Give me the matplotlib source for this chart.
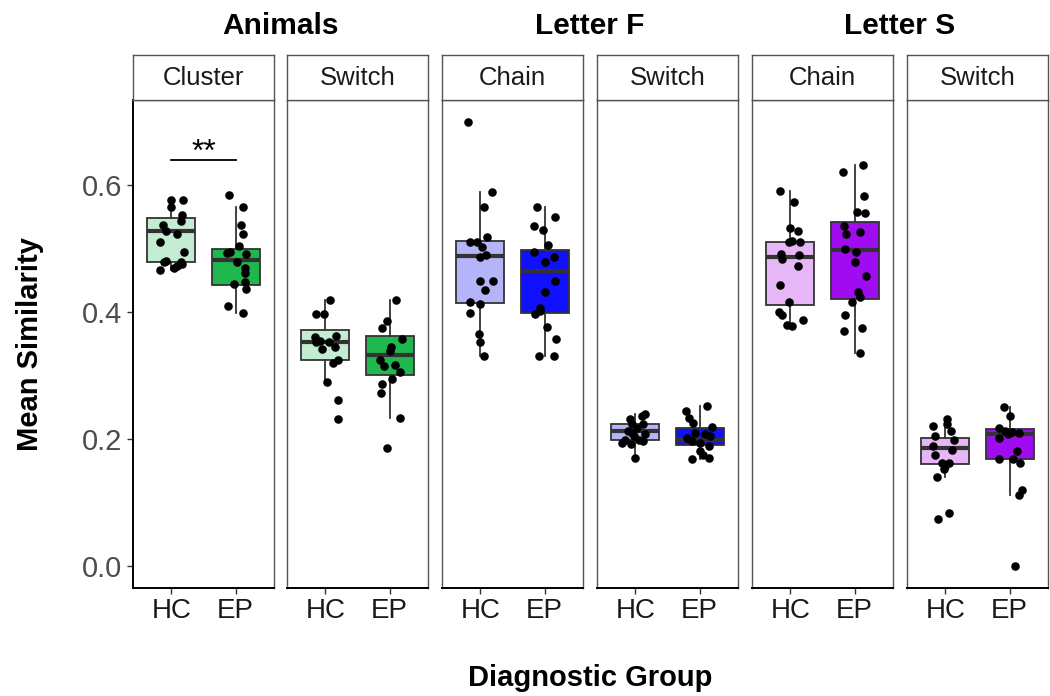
import matplotlib
matplotlib.use('Agg')
import matplotlib.pyplot as plt

plt.rcParams['font.family'] = ['Liberation Sans', 'DejaVu Sans']

# ---- data ----
groups = ['HC', 'EP']
tasks = ['Animals', 'Letter F', 'Letter S']
strip_labels = ['Cluster', 'Switch', 'Chain', 'Switch', 'Chain', 'Switch']

# Animals / Cluster
an_clu_hc = [0.577, 0.577, 0.565, 0.552, 0.544, 0.537, 0.528, 0.523, 0.511, 0.495,
             0.480, 0.476, 0.470, 0.472, 0.466, 0.478, 0.479]
an_clu_hc_jit = [-0.01, 0.18, 0.0, 0.16, 0.15, -0.13, -0.09, 0.09, -0.18, 0.20,
                 -0.09, 0.17, 0.04, 0.09, -0.18, 0.15, -0.11]
an_clu_ep = [0.585, 0.565, 0.537, 0.523, 0.504, 0.493, 0.492, 0.494, 0.479, 0.470,
             0.462, 0.444, 0.447, 0.436, 0.410, 0.399]
an_clu_ep_jit = [-0.10, 0.11, 0.09, 0.11, 0.05, -0.14, 0.17, -0.08, 0.02, 0.15,
                 0.14, -0.03, 0.15, 0.16, -0.12, 0.12]

# Animals / Switch
an_sw_hc = [0.419, 0.397, 0.397, 0.360, 0.355, 0.362, 0.342, 0.344, 0.352, 0.325,
            0.320, 0.289, 0.261, 0.232, 0.353]
an_sw_hc_jit = [0.07, -0.14, -0.02, -0.16, -0.08, 0.16, -0.05, 0.15, -0.14, 0.19,
                0.12, 0.02, 0.19, 0.19, 0.05]
an_sw_ep = [0.419, 0.386, 0.374, 0.358, 0.344, 0.339, 0.325, 0.315, 0.317, 0.305,
            0.294, 0.286, 0.273, 0.233, 0.185]
an_sw_ep_jit = [0.10, -0.04, -0.11, 0.19, 0.03, 0.0, -0.15, -0.09, 0.09, 0.17,
                0.04, -0.11, -0.14, 0.17, -0.04]

# Letter F / Chain
lf_ch_hc = [0.699, 0.589, 0.566, 0.510, 0.518, 0.510, 0.502, 0.486, 0.489, 0.449,
            0.449, 0.435, 0.416, 0.412, 0.399, 0.365, 0.353, 0.331]
lf_ch_hc_jit = [-0.19, 0.18, 0.05, -0.17, 0.10, -0.06, 0.02, 0.0, 0.09, 0.0,
                0.19, 0.07, -0.17, 0.0, -0.17, -0.03, 0.0, 0.05]
lf_ch_ep = [0.566, 0.549, 0.535, 0.529, 0.506, 0.494, 0.486, 0.478, 0.449, 0.432,
            0.407, 0.397, 0.376, 0.358, 0.331, 0.331, 0.402]
lf_ch_ep_jit = [-0.11, 0.17, -0.17, -0.03, 0.06, -0.16, 0.14, 0.01, 0.17, 0.0,
                -0.07, -0.15, 0.04, 0.18, -0.09, 0.14, -0.07]

# Letter F / Switch
lf_sw_hc = [0.239, 0.236, 0.231, 0.223, 0.223, 0.217, 0.212, 0.210, 0.207, 0.199,
            0.199, 0.194, 0.196, 0.192, 0.170, 0.205]
lf_sw_hc_jit = [0.15, 0.10, -0.08, -0.06, 0.125, 0.02, -0.11, -0.05, 0.15, -0.16,
                0.05, -0.21, 0.125, -0.07, 0.0, -0.015]
lf_sw_ep = [0.252, 0.244, 0.233, 0.225, 0.219, 0.210, 0.207, 0.202, 0.205, 0.194,
            0.188, 0.181, 0.169, 0.170, 0.175, 0.196]
lf_sw_ep_jit = [0.11, -0.21, -0.16, -0.10, 0.19, -0.07, 0.09, -0.20, 0.17, 0.01,
                0.14, 0.0, -0.12, 0.14, 0.06, -0.12]

# Letter S / Chain
ls_ch_hc = [0.591, 0.573, 0.533, 0.527, 0.512, 0.510, 0.510, 0.491, 0.484, 0.489,
            0.473, 0.443, 0.416, 0.400, 0.395, 0.387, 0.379, 0.378]
ls_ch_hc_jit = [-0.16, 0.05, 0.0, 0.11, 0.02, 0.15, -0.03, -0.14, -0.125, 0.14,
                0.125, -0.16, -0.03, -0.18, -0.125, 0.19, -0.05, 0.02]
ls_ch_ep = [0.632, 0.620, 0.582, 0.557, 0.556, 0.536, 0.523, 0.526, 0.499, 0.494,
            0.478, 0.457, 0.431, 0.423, 0.415, 0.395, 0.370, 0.375, 0.335]
ls_ch_ep_jit = [0.13, -0.18, 0.14, 0.04, 0.17, -0.17, -0.13, 0.08, -0.15, 0.03,
                0.0, 0.18, 0.06, 0.09, -0.04, -0.15, -0.16, 0.11, 0.09]

# Letter S / Switch
ls_sw_hc = [0.231, 0.220, 0.212, 0.223, 0.205, 0.199, 0.188, 0.183, 0.175, 0.162,
            0.157, 0.153, 0.140, 0.083, 0.074, 0.162]
ls_sw_hc_jit = [0.02, -0.19, 0.09, 0.02, -0.17, 0.14, -0.19, 0.10, -0.17, -0.06,
                0.0, -0.03, -0.125, 0.05, -0.11, 0.05]
ls_sw_ep = [0.251, 0.236, 0.217, 0.212, 0.211, 0.210, 0.202, 0.181, 0.169, 0.169,
            0.162, 0.120, 0.112, 0.0, 0.207]
ls_sw_ep_jit = [-0.08, 0.01, -0.17, -0.07, 0.04, 0.14, -0.16, 0.11, -0.17, 0.06,
                0.17, 0.19, 0.14, 0.08, -0.02]

# box statistics (whisker low, q1, median, q3, whisker high) per panel: HC, EP
box_stats = [
    [(0.466, 0.479, 0.527, 0.548, 0.577), (0.399, 0.443, 0.482, 0.499, 0.565)],
    [(0.289, 0.325, 0.353, 0.371, 0.419), (0.233, 0.300, 0.332, 0.362, 0.419)],
    [(0.331, 0.414, 0.488, 0.512, 0.589), (0.331, 0.398, 0.464, 0.498, 0.566)],
    [(0.170, 0.199, 0.212, 0.223, 0.239), (0.169, 0.191, 0.198, 0.217, 0.252)],
    [(0.378, 0.411, 0.486, 0.511, 0.591), (0.335, 0.420, 0.498, 0.542, 0.632)],
    [(0.140, 0.160, 0.186, 0.202, 0.233), (0.112, 0.169, 0.207, 0.215, 0.251)],
]

# significance bar for Animals / Cluster
sig_level = 0.640
sig_label = '**'

points = [
    [(an_clu_hc, an_clu_hc_jit), (an_clu_ep, an_clu_ep_jit)],
    [(an_sw_hc, an_sw_hc_jit), (an_sw_ep, an_sw_ep_jit)],
    [(lf_ch_hc, lf_ch_hc_jit), (lf_ch_ep, lf_ch_ep_jit)],
    [(lf_sw_hc, lf_sw_hc_jit), (lf_sw_ep, lf_sw_ep_jit)],
    [(ls_ch_hc, ls_ch_hc_jit), (ls_ch_ep, ls_ch_ep_jit)],
    [(ls_sw_hc, ls_sw_hc_jit), (ls_sw_ep, ls_sw_ep_jit)],
]

fill_colors = [
    ['#c3ecd2', '#1fb84e'],
    ['#c3ecd2', '#1fb84e'],
    ['#b4b4f8', '#1010ff'],
    ['#b4b4f8', '#1010ff'],
    ['#e7b6f6', '#a00cf0'],
    ['#e7b6f6', '#a00cf0'],
]

# ---- layout (pixels) ----
W, H = 1050, 696
fig = plt.figure(figsize=(W / 100, H / 100), dpi=100)

def px_axes(left, top, width, height):
    return fig.add_axes([left / W, 1 - (top + height) / H, width / W, height / H])

panel_left = [133, 287, 442, 597, 752, 907]
panel_w = 141
panel_top, panel_h = 100, 488
strip_top, strip_h = 55, 45

all_vals = [v for p in points for g in p for v in g[0]]
lo, hi = min(all_vals), max(all_vals)
pad = 0.05 * (hi - lo)
ylim = (lo - pad, hi + pad)

edge = '#333333'
fs_tick = 20
fs_strip = 18.5
fs_lab = 21

for i in range(6):
    ax = px_axes(panel_left[i], panel_top, panel_w, panel_h)
    stats = []
    for j in range(2):
        wl, q1, med, q3, wh = box_stats[i][j]
        stats.append(dict(whislo=wl, q1=q1, med=med, q3=q3, whishi=wh, fliers=[]))
    bp = ax.bxp(stats, positions=[1, 2], widths=0.75, patch_artist=True,
                showfliers=False, showcaps=False,
                boxprops=dict(edgecolor=edge, linewidth=1.3),
                medianprops=dict(color=edge, linewidth=3),
                whiskerprops=dict(color=edge, linewidth=1.3))
    for patch, c in zip(bp['boxes'], fill_colors[i]):
        patch.set_facecolor(c)
    for j in range(2):
        vals, jit = points[i][j]
        xs = [j + 1 + d for d in jit]
        ax.scatter(xs, vals, s=38, color='black', zorder=4, linewidths=0)

    ax.set_xlim(0.4, 2.6)
    ax.set_ylim(*ylim)
    ax.set_xticks([1, 2])
    ax.set_xticklabels(groups, fontsize=fs_tick, color='#1a1a1a')
    ax.tick_params(axis='x', length=4, width=1, color=edge, pad=3)
    for s in ['top', 'right', 'left']:
        ax.spines[s].set_color('#555555')
        ax.spines[s].set_linewidth(1.0)
    ax.spines['bottom'].set_color('black')
    ax.spines['bottom'].set_linewidth(1.4)
    if i == 0:
        ax.set_yticks([0.0, 0.2, 0.4, 0.6])
        ax.set_yticklabels(['0.0', '0.2', '0.4', '0.6'], fontsize=fs_lab, color='#4d4d4d')
        ax.tick_params(axis='y', length=4, width=1, color=edge, pad=4)
        ax.spines['left'].set_color('black')
        ax.spines['left'].set_linewidth(1.4)
        ax.plot([1, 2], [sig_level, sig_level], color='black', linewidth=1.3)
        ax.text(1.5, sig_level - 0.002, sig_label, ha='center', va='baseline',
                fontsize=23)
    else:
        ax.set_yticks([])

    sax = px_axes(panel_left[i], strip_top, panel_w, strip_h)
    sax.set_xticks([])
    sax.set_yticks([])
    for s in sax.spines.values():
        s.set_color('#555555')
        s.set_linewidth(1.0)
    sax.text(0.5, 0.48, strip_labels[i], ha='center', va='center',
             fontsize=fs_strip, color='#1a1a1a', transform=sax.transAxes)

# task titles over each pair of panels
for k, t in enumerate(tasks):
    cx = (panel_left[2 * k] + panel_left[2 * k + 1] + panel_w) / 2
    fig.text(cx / W, 1 - 26 / H, t, ha='center', va='center',
             fontsize=21.5, fontweight='bold')

fig.text(30 / W, 1 - 344 / H, 'Mean Similarity', rotation=90, ha='center',
         va='center', fontsize=fs_lab, fontweight='bold')
fig.text(590 / W, 1 - 678 / H, 'Diagnostic Group', ha='center', va='center',
         fontsize=fs_lab, fontweight='bold')

fig.savefig('out.png', dpi=100)
